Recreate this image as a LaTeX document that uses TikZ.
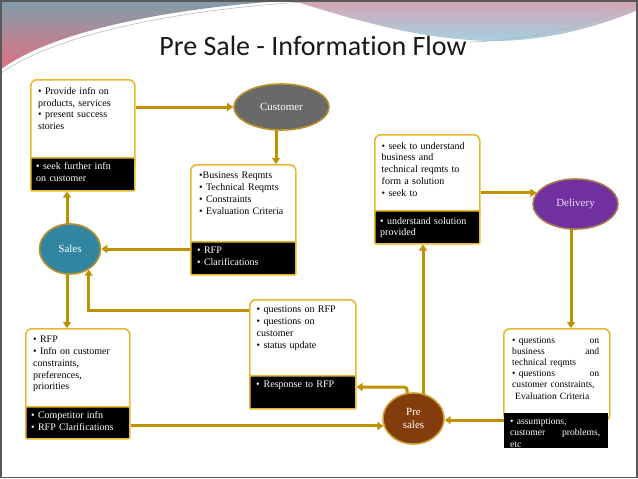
\documentclass[tikz,border=0pt]{standalone}
\usepackage{fontspec}
\setmainfont{Liberation Serif}
\newfontfamily\titlefont[Ligatures=NoCommon]{Carlito}
\usetikzlibrary{arrows.meta,shapes.geometric,calc}
\pgfdeclarelayer{back}
\pgfdeclarelayer{conn}
\pgfsetlayers{back,conn,main}
\definecolor{arrowgold}{RGB}{191,144,0}
\definecolor{boxgold}{RGB}{232,183,50}
\definecolor{custfill}{RGB}{105,105,105}
\definecolor{salesfill}{RGB}{49,133,160}
\definecolor{delfill}{RGB}{112,48,160}
\definecolor{prefill}{RGB}{132,60,12}
\definecolor{ellborder}{RGB}{184,142,40}
\definecolor{swblue}{RGB}{128,158,172}
\definecolor{swpink}{RGB}{226,112,128}
\definecolor{swmauve}{RGB}{214,164,180}
\definecolor{swcyan}{RGB}{160,212,228}
\tikzset{
  wbox/.style={draw=boxgold,fill=white,line width=1.6pt,rounded corners=6pt,anchor=north west,inner sep=0pt},
  kbox/.style={draw=boxgold,fill=black,line width=1.6pt,rounded corners=1pt,anchor=north west,inner sep=0pt},
  nbox/.style={fill=black,anchor=north west,inner sep=0pt},
  btext/.style={anchor=north west,inner sep=0pt,align=left,font=\fontsize{10}{11.8}\selectfont},
  wtext/.style={btext,text=white},
  ell/.style={ellipse,draw=ellborder,line width=1.6pt,inner sep=0pt,text=white,font=\fontsize{11}{13.6}\selectfont,align=center},
  conn/.style={draw=arrowgold,line width=3pt,-{Triangle[width=8pt,length=6pt]}},
}
\begin{document}
\begin{tikzpicture}[x=1pt,y=-1pt]
\useasboundingbox (0,0) rectangle (638,479);
\begin{pgfonlayer}{back}
\fill[white] (0,0) rectangle (638,479);
\shade[top color=swblue,bottom color=swpink] (0,0) -- (300,0) .. controls (200,5) and (60,25) .. (0,70) -- cycle;
\draw[gray!60,line width=0.5pt] (0,74) .. controls (60,30) and (200,8) .. (305,2);
\shade[top color=swmauve,bottom color=swcyan] (290,0) -- (638,0) -- (638,10) .. controls (590,30) and (530,45) .. (470,40) .. controls (400,35) and (340,15) .. (290,0) -- cycle;
\draw[gray!60,line width=0.5pt] (470,42) .. controls (540,40) and (600,20) .. (638,4);
\draw[gray!70!black,line width=1.2pt] (1,1) rectangle (637,477.5);
\end{pgfonlayer}

\node[anchor=base,text=black!90] (title) at (313,56) {\titlefont\fontsize{28}{32}\selectfont Pre Sale - Information Flow};

% boxes
\node[wbox,minimum width=104pt,minimum height=90pt] (b1w) at (30,79) {};
\node[kbox,minimum width=104pt,minimum height=33pt] (b1k) at (30,157) {};
\node[wbox,minimum width=105pt,minimum height=85pt] (b2w) at (190,164) {};
\node[kbox,minimum width=105pt,minimum height=33pt] (b2k) at (190,241) {};
\node[wbox,minimum width=104pt,minimum height=86pt] (b3w) at (25,328) {};
\node[kbox,minimum width=104pt,minimum height=32pt] (b3k) at (25,406) {};
\node[wbox,minimum width=106pt,minimum height=84pt] (b4w) at (249,299) {};
\node[kbox,minimum width=106pt,minimum height=33pt] (b4k) at (249,375) {};
\node[wbox,minimum width=105pt,minimum height=84pt] (b5w) at (374,134) {};
\node[kbox,minimum width=105pt,minimum height=33pt] (b5k) at (374,210) {};
\node[wbox,minimum width=106pt,minimum height=92pt] (b6w) at (503,328) {};
\node[nbox,minimum width=104pt,minimum height=35pt] (b6k) at (504,413) {};

% texts
\node[btext,text width=96pt] (t1w) at (38,87) {• Provide infn on\\products, services\\• present success\\stories};
\node[wtext,text width=96pt] (t1k) at (36,162) {• seek further infn\\on customer};
\node[btext,text width=95pt] (t2w) at (199,172) {•Business Reqmts\\• Technical Reqmts\\• Constraints\\• Evaluation Criteria};
\node[wtext,text width=95pt] (t2k) at (197,246.5) {• RFP\\• Clarifications};
\node[btext,text width=95pt] (t3w) at (33,336) {• RFP\\• Infn on customer\\constraints,\\preferences,\\priorities};
\node[wtext,text width=97pt] (t3k) at (31,411) {• Competitor infn\\• RFP Clarifications};
\node[btext,text width=97pt] (t4w) at (256.5,306) {• questions on RFP\\• questions on\\customer\\• status update};
\node[wtext,text width=97pt] (t4k) at (256,381) {•\hspace*{4pt}Response to RFP};
\node[btext,text width=97pt] (t5w) at (381.5,142) {• seek to understand\\business and\\technical reqmts to\\form a solution\\• seek to};
\node[wtext,text width=97pt] (t5k) at (380,217) {• understand solution\\provided};
\node[btext,text width=87pt,font=\fontsize{9.6}{11.2}\selectfont] (t6w) at (512,336.5) {• questions \hfill on\\business \hfill and\\technical reqmts\\• questions \hfill on\\customer constraints,\\\hspace*{3pt}Evaluation Criteria};
\node[wtext,text width=90pt,font=\fontsize{9.6}{11.4}\selectfont] (t6k) at (510,418) {• assumptions,\\customer \hfill problems,\\etc};

% ellipses
\node[ell,fill=custfill,minimum width=95pt,minimum height=46pt] (cust) at (281.5,107) {Customer};
\node[ell,fill=salesfill,minimum width=61pt,minimum height=50pt] (sales) at (70,249) {Sales};
\node[ell,fill=delfill,draw={rgb,255:red,165;green,120;blue,80},minimum width=85pt,minimum height=50pt,text={rgb,255:red,236;green,222;blue,246}] (del) at (575.5,204) {Delivery};
\node[ell,fill=prefill,draw={rgb,255:red,205;green,160;blue,50},minimum width=61pt,minimum height=51pt] (pre) at (413.5,418.5) {Pre\\sales};

% connectors
\begin{pgfonlayer}{conn}
\draw[conn] (b1w.east |- cust.west) -- (cust.west);
\draw[conn] (cust.center -| 276,0) -- (b2w.north -| 276,0);
\draw[conn] (sales.center -| 67,0) -- (b1k.south -| 67,0);
\draw[conn] (sales.center -| 67,0) -- (b3w.north -| 67,0);
\draw[conn] (b2k.west |- sales.east) -- (sales.east);
\draw[conn] (b4w.west |- 0,310) -| (sales.312);
\draw[conn] (b3k.east |- pre.194) -- (pre.194);
\draw[conn,rounded corners=3pt] (pre.center -| 407,0) |- (b4k.east |- 0,387);
\draw[conn] (pre.center -| 423,0) -- (b5k.south -| 423,0);
\draw[conn] (b5w.east |- del.164) -- (del.164);
\draw[conn] (del.center -| 571,0) -- (b6w.north -| 571,0);
\draw[conn] (b6k.west |- pre.357) -- (pre.357);
\end{pgfonlayer}
\end{tikzpicture}
\end{document}
